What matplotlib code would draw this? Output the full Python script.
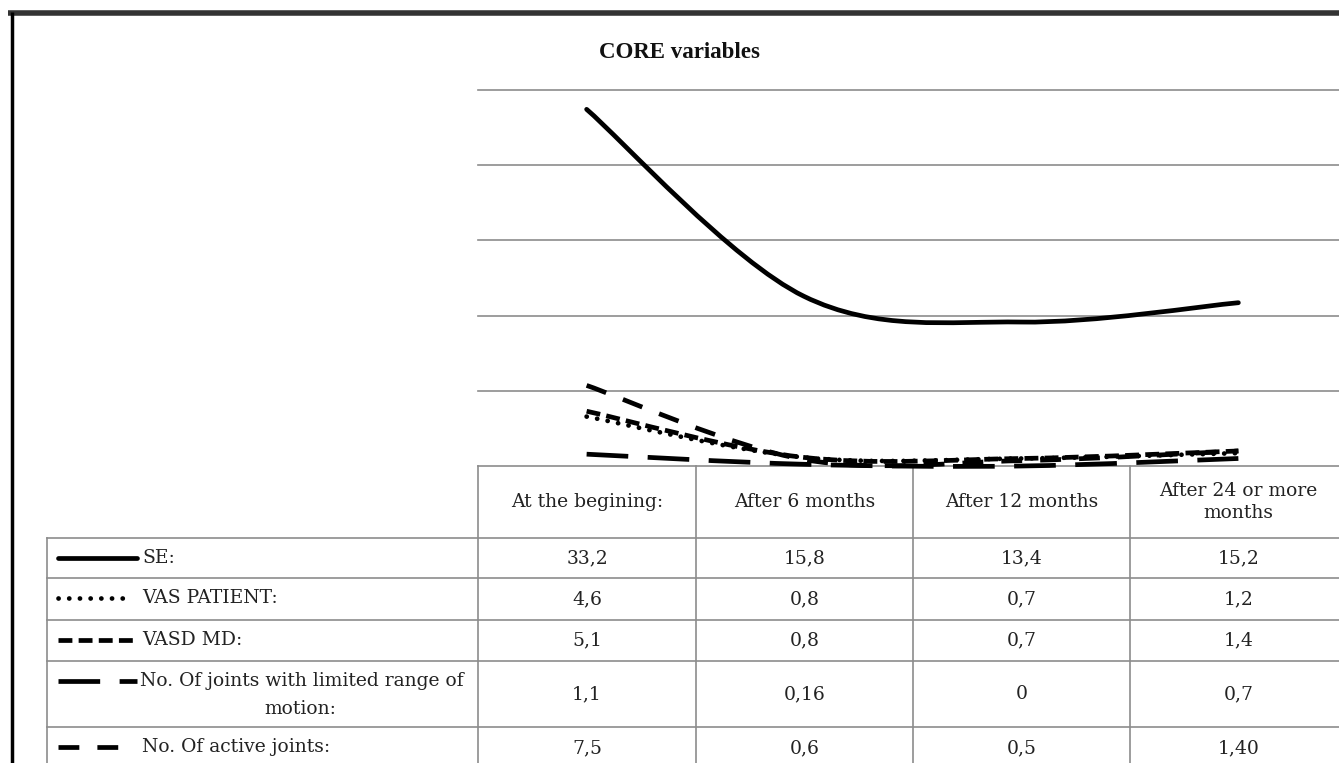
import matplotlib.pyplot as plt
from matplotlib.path import Path
from matplotlib.patches import PathPatch

plt.rcParams['font.family'] = ['DejaVu Serif', 'Liberation Serif']
plt.rcParams['lines.scale_dashes'] = False

# Data
periods = ["At the begining:", "After 6 months", "After 12 months", "After 24 or more\nmonths"]
series_names = ["SE:", "VAS PATIENT:", "VASD MD:",
                "No. Of joints with limited range of\nmotion:", "No. Of active joints:"]
se = [33.2, 15.8, 13.4, 15.2]
vas_patient = [4.6, 0.8, 0.7, 1.2]
vasd_md = [5.1, 0.8, 0.7, 1.4]
limited_joints = [1.1, 0.16, 0, 0.7]
active_joints = [7.5, 0.6, 0.5, 1.40]
value_labels = [
    ["33,2", "15,8", "13,4", "15,2"],
    ["4,6", "0,8", "0,7", "1,2"],
    ["5,1", "0,8", "0,7", "1,4"],
    ["1,1", "0,16", "0", "0,7"],
    ["7,5", "0,6", "0,5", "1,40"],
]
all_series = [se, vas_patient, vasd_md, limited_joints, active_joints]

# line styles (dash lengths in points)
styles = [
    dict(linestyle='-', capstyle='round'),
    dict(linestyle=(0, (0.1, 7.6)), capstyle='round'),
    dict(linestyle=(0, (10, 4.5)), capstyle='butt'),
    dict(linestyle=(0, (30, 14)), capstyle='butt'),
    dict(linestyle=(0, (15, 13)), capstyle='butt'),
]
key_ends = [137, 128, 137, 137, 118]
LW = 3.4

W, H = 1339, 763
fig = plt.figure(figsize=(W / 100, H / 100), dpi=100)

# pixel-space overlay for frame and table
tab = fig.add_axes([0, 0, 1, 1])
tab.set_xlim(0, W)
tab.set_ylim(H, 0)
tab.axis('off')

# chart area
left, right, top, bottom = 478, 1347, 90, 466
ax = fig.add_axes([left / W, (H - bottom) / H, (right - left) / W, (bottom - top) / H])
ax.set_xlim(-0.5, 3.5)
ax.set_ylim(0, 35)
ax.axis('off')
for g in [7, 14, 21, 28, 35]:
    ax.axhline(g, color='#8c8c8c', lw=1.2, zorder=1, clip_on=False)


def smooth_path(xs, ys):
    # cubic bezier segments through the data points (smoothed line look)
    pts = list(zip(xs, ys))
    verts = [pts[0]]
    codes = [Path.MOVETO]
    n = len(pts)
    for i in range(n - 1):
        p0 = pts[i - 1] if i > 0 else pts[i]
        p1 = pts[i]
        p2 = pts[i + 1]
        p3 = pts[i + 2] if i + 2 < n else pts[i + 1]
        c1 = (p1[0] + (p2[0] - p0[0]) / 6, p1[1] + (p2[1] - p0[1]) / 6)
        c2 = (p2[0] - (p3[0] - p1[0]) / 6, p2[1] - (p3[1] - p1[1]) / 6)
        verts += [c1, c2, p2]
        codes += [Path.CURVE4] * 3
    return Path(verts, codes)


xs = list(range(len(periods)))
for vals, st in zip(all_series, styles):
    patch = PathPatch(smooth_path(xs, vals), fill=False, edgecolor='black',
                      lw=LW, linestyle=st['linestyle'], capstyle=st['capstyle'],
                      joinstyle='round', clip_on=False, zorder=3)
    ax.add_patch(patch)

fig.text(679 / W, 1 - 52 / H, "CORE variables", ha='center', va='center',
         fontsize=16.5, fontweight='bold', color='#111111', family='Liberation Serif')

# outer frame
tab.plot([8, W], [13, 13], color='#333333', lw=4, solid_capstyle='butt')
tab.plot([12, 12], [12, H], color='black', lw=2.5, solid_capstyle='butt')

# table grid
grid_c = '#8c8c8c'
col_x = [478, 696, 913, 1130, 1347]
row_y = [466, 538, 578, 620, 661, 727, 800]
label_left = 47
tab.plot([col_x[0], W], [row_y[0], row_y[0]], color=grid_c, lw=1.2)
for y in row_y[1:-1]:
    tab.plot([label_left, W], [y, y], color=grid_c, lw=1.2)
for x in col_x[:-1]:
    tab.plot([x, x], [row_y[0], H], color=grid_c, lw=1.2)
tab.plot([label_left, label_left], [row_y[1], H], color=grid_c, lw=1.2)

txt_c = '#222222'
fs = 13.5
for j, p in enumerate(periods):
    cx = (col_x[j] + col_x[j + 1]) / 2
    tab.text(cx, (row_y[0] + row_y[1]) / 2, p, ha='center', va='center',
             fontsize=fs, color=txt_c, linespacing=1.3)

for i, name in enumerate(series_names):
    cy = (row_y[i + 1] + row_y[i + 2]) / 2
    if i == len(series_names) - 1:
        cy = row_y[i + 1] + 21
    for j in range(len(periods)):
        cx = (col_x[j] + col_x[j + 1]) / 2
        tab.text(cx, cy, value_labels[i][j], ha='center', va='center',
                 fontsize=fs, color=txt_c)
    # legend key
    st = styles[i]
    ky = row_y[i + 1] + 20
    tab.plot([58, key_ends[i]], [ky, ky], color='black', lw=LW,
             linestyle=st['linestyle'], dash_capstyle=st['capstyle'],
             solid_capstyle='round')
    if '\n' in name:
        first, second = name.split('\n')
        tab.text(140, ky, first, ha='left', va='center', fontsize=fs, color=txt_c)
        tab.text(300, ky + 28, second, ha='center', va='center', fontsize=fs, color=txt_c)
    else:
        tab.text(142, ky, name, ha='left', va='center', fontsize=fs, color=txt_c)

fig.savefig('out.png', dpi=100)
